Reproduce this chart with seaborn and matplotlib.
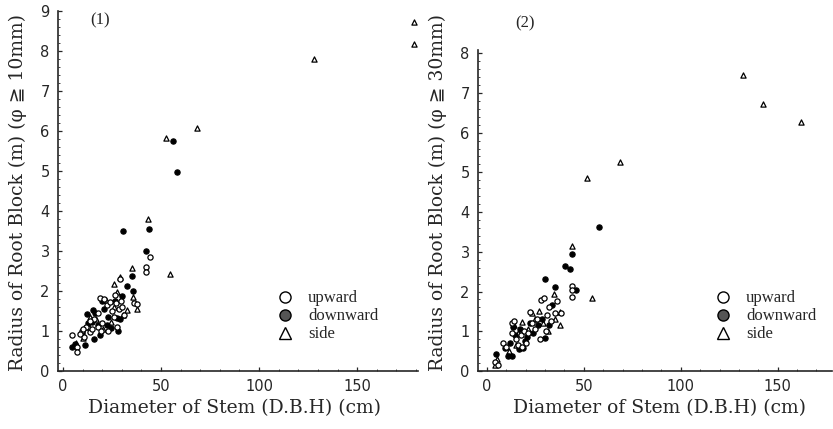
import matplotlib
matplotlib.use("Agg")
import matplotlib.pyplot as plt
from matplotlib.lines import Line2D
from matplotlib.ticker import MultipleLocator
import seaborn as sns
import pandas as pd

# ---------------- data : panel (1) phi >= 10mm ----------------
p1_up_x = [4.7, 7.0, 7.3, 9.5, 12, 13.7, 17.9, 19.1, 21, 16, 14, 18, 20, 22.5, 24, 25, 27, 27.6,
           28.5, 29, 29.5, 30, 26, 23, 15, 11, 36.2, 37.9, 42.6, 42.6, 44.5, 10, 19.5, 31, 8.5, 26.5]
p1_up_y = [0.9, 0.6, 0.48, 1.0, 1.1, 0.98, 1.11, 1.82, 1.8, 1.3, 1.25, 1.45, 1.2, 1.65, 1.72, 1.5,
           1.7, 1.11, 1.55, 2.3, 1.75, 1.6, 1.35, 1.0, 1.05, 0.85, 1.71, 1.68, 2.6, 2.48, 2.84, 1.05,
           1.0, 1.4, 0.92, 1.9]
p1_down_x = [4.4, 6.1, 11.2, 12.5, 15.4, 14.6, 15.7, 19.1, 16.5, 21, 22.7, 23, 24.7, 27.7, 28.1,
             30.3, 32.7, 35.2, 35.7, 30.5, 42.6, 44, 56.3, 58.2, 20, 18, 26.5, 29, 13, 9.5]
p1_down_y = [0.61, 0.67, 0.64, 1.42, 1.53, 1.23, 0.79, 0.9, 1.45, 1.55, 1.15, 1.36, 1.07, 1.32, 0.99,
             1.88, 2.12, 2.38, 1.99, 3.49, 3.0, 3.55, 5.75, 4.98, 1.75, 1.15, 1.75, 1.3, 1.2, 0.95]
p1_side_x = [6.5, 10.3, 24.7, 25.9, 28.9, 27.6, 35.2, 35.5, 37.9, 32.7, 30.6, 22, 17, 13.5, 20.5,
             26, 43.6, 54.7, 52.6, 68.2, 127.9, 179, 179, 14]
p1_side_y = [0.7, 0.83, 1.23, 2.18, 2.36, 1.98, 2.57, 1.85, 1.55, 1.53, 1.4, 1.78, 1.3, 1.1, 1.05,
             1.6, 3.8, 2.42, 5.82, 6.07, 7.79, 8.73, 8.17, 1.35]

# ---------------- data : panel (2) phi >= 30mm ----------------
p2_up_x = [4.3, 5.5, 8.5, 12.8, 14.2, 15, 16, 17.5, 19, 20, 22.3, 23.5, 25, 27.5, 28, 29.2, 30.5,
           31, 33, 36.1, 35, 38, 43.9, 43.9, 43.9, 10, 21, 26, 13, 18, 32]
p2_up_y = [0.23, 0.15, 0.7, 1.2, 1.25, 0.8, 0.65, 0.9, 1.0, 0.7, 1.49, 1.2, 1.05, 0.8, 1.79, 1.83,
           1.0, 1.4, 1.25, 1.76, 1.45, 1.45, 2.15, 2.04, 1.87, 0.6, 0.95, 1.3, 0.95, 0.6, 1.6]
p2_down_x = [4.5, 9.3, 11, 12.8, 13.5, 14.5, 16.5, 18.8, 17, 20.5, 22, 24, 26.5, 28.5, 30.1, 30.1,
             33.5, 34.9, 32, 40.1, 42.7, 43.9, 46, 58, 12, 19.5]
p2_down_y = [0.42, 0.57, 0.37, 0.37, 1.1, 0.9, 0.55, 0.57, 1.05, 0.85, 1.2, 0.95, 1.15, 1.3, 0.82,
             2.31, 1.66, 2.11, 1.15, 2.64, 2.56, 2.94, 2.04, 3.63, 0.7, 0.75]
p2_side_x = [4.0, 5.0, 11.5, 14, 16, 18, 21, 23.5, 25, 27, 29, 31.5, 34.4, 37.8, 37.8, 43.9, 54.4,
             51.8, 68.6, 132, 142.3, 161.8, 15, 35]
p2_side_y = [0.15, 0.3, 0.5, 1.15, 0.95, 1.24, 1.05, 1.45, 1.3, 1.5, 1.2, 1.0, 1.95, 1.49, 1.16,
             3.14, 1.85, 4.87, 5.27, 7.45, 6.73, 6.27, 0.65, 1.3]

categories = ["upward", "downward", "side"]
panel_tags = ["(1)", "(2)"]
y_labels = ["Radius of Root Block (m) (\u03c6 \u2267 10mm)",
            "Radius of Root Block (m) (\u03c6 \u2267 30mm)"]
x_label = "Diameter of Stem (D.B.H) (cm)"


def frame(ux, uy, dx, dy, sx, sy):
    rows = []
    for cat, xs, ys in zip(categories, [ux, dx, sx], [uy, dy, sy]):
        for a, b in zip(xs, ys):
            rows.append({"dbh": a, "radius": b, "type": cat})
    return pd.DataFrame(rows)


df1 = frame(p1_up_x, p1_up_y, p1_down_x, p1_down_y, p1_side_x, p1_side_y)
df2 = frame(p2_up_x, p2_up_y, p2_down_x, p2_down_y, p2_side_x, p2_side_y)

sns.set_theme(style="ticks")
plt.rcParams["font.family"] = ["DejaVu Sans"]
serif = ["DejaVu Serif", "DejaVu Sans"]
serif_leg = ["Liberation Serif", "DejaVu Serif"]

fig = plt.figure(figsize=(8.33, 4.29), dpi=100)
ax1 = fig.add_axes([58 / 833, 58 / 429, 360 / 833, 360 / 429])
ax2 = fig.add_axes([478 / 833, 58 / 429, 354 / 833, 321 / 429])

styles = {
    "upward": dict(marker="o", facecolor="white", edgecolor="black", s=14, linewidth=0.9),
    "downward": dict(marker="o", facecolor="black", edgecolor="black", s=14, linewidth=0.9),
    "side": dict(marker="^", facecolor="white", edgecolor="black", s=14, linewidth=0.9),
}

panels = [(ax1, df1, (-2.5, 181), (0, 9), 0),
          (ax2, df2, (-4.6, 178), (0, 8.08), 1)]

for ax, df, xl, yl, i in panels:
    for cat in ["side", "downward", "upward"]:
        sub = df[df["type"] == cat]
        sns.scatterplot(data=sub, x="dbh", y="radius", ax=ax, legend=False, zorder=3,
                        **styles[cat])
    ax.set_xlim(*xl)
    ax.set_ylim(*yl)
    ax.set_xticks([0, 50, 100, 150])
    ax.set_yticks(range(0, int(yl[1]) + 1))
    ax.xaxis.set_minor_locator(MultipleLocator(10))
    ax.yaxis.set_minor_locator(MultipleLocator(0.2))
    ax.tick_params(which="major", direction="in", length=3, width=0.9, labelsize=10.5, pad=6)
    ax.tick_params(which="minor", direction="in", length=1.5, width=0.6)
    sns.despine(ax=ax)
    for sp in ["left", "bottom"]:
        ax.spines[sp].set_linewidth(1.2)
    ax.set_xlabel(x_label, fontsize=13.5, family=serif)
    ax.set_ylabel(y_labels[i], fontsize=13.5, family=serif)
    ax.grid(False)

ax1.xaxis.set_label_coords(0.49, -0.078)
ax1.yaxis.set_label_coords(-0.086, 0.497)
ax2.xaxis.set_label_coords(0.514, -0.087)
ax2.yaxis.set_label_coords(-0.088, 0.555)

fig.text(100 / 833, 1 - 20 / 429, panel_tags[0], fontsize=12, family=serif_leg, ha="center", va="center")
fig.text(525 / 833, 1 - 23 / 429, panel_tags[1], fontsize=12, family=serif_leg, ha="center", va="center")

handles = [
    Line2D([], [], marker="o", linestyle="", markerfacecolor="white", markeredgecolor="black",
           markersize=8, markeredgewidth=1.0),
    Line2D([], [], marker="o", linestyle="", markerfacecolor="#555555", markeredgecolor="black",
           markersize=8, markeredgewidth=1.0),
    Line2D([], [], marker="^", linestyle="", markerfacecolor="white", markeredgecolor="black",
           markersize=8, markeredgewidth=1.0),
]
for ax, lx in [(ax1, 268), (ax2, 706)]:
    ax.legend(handles, categories, loc="upper left", bbox_to_anchor=(lx / 833, 1 - 282 / 429),
              bbox_transform=fig.transFigure, frameon=False, handlelength=1.0,
              handletextpad=0.9, labelspacing=0.12, borderpad=0,
              prop={"family": serif_leg, "size": 12})

fig.savefig("out.png", dpi=100)
